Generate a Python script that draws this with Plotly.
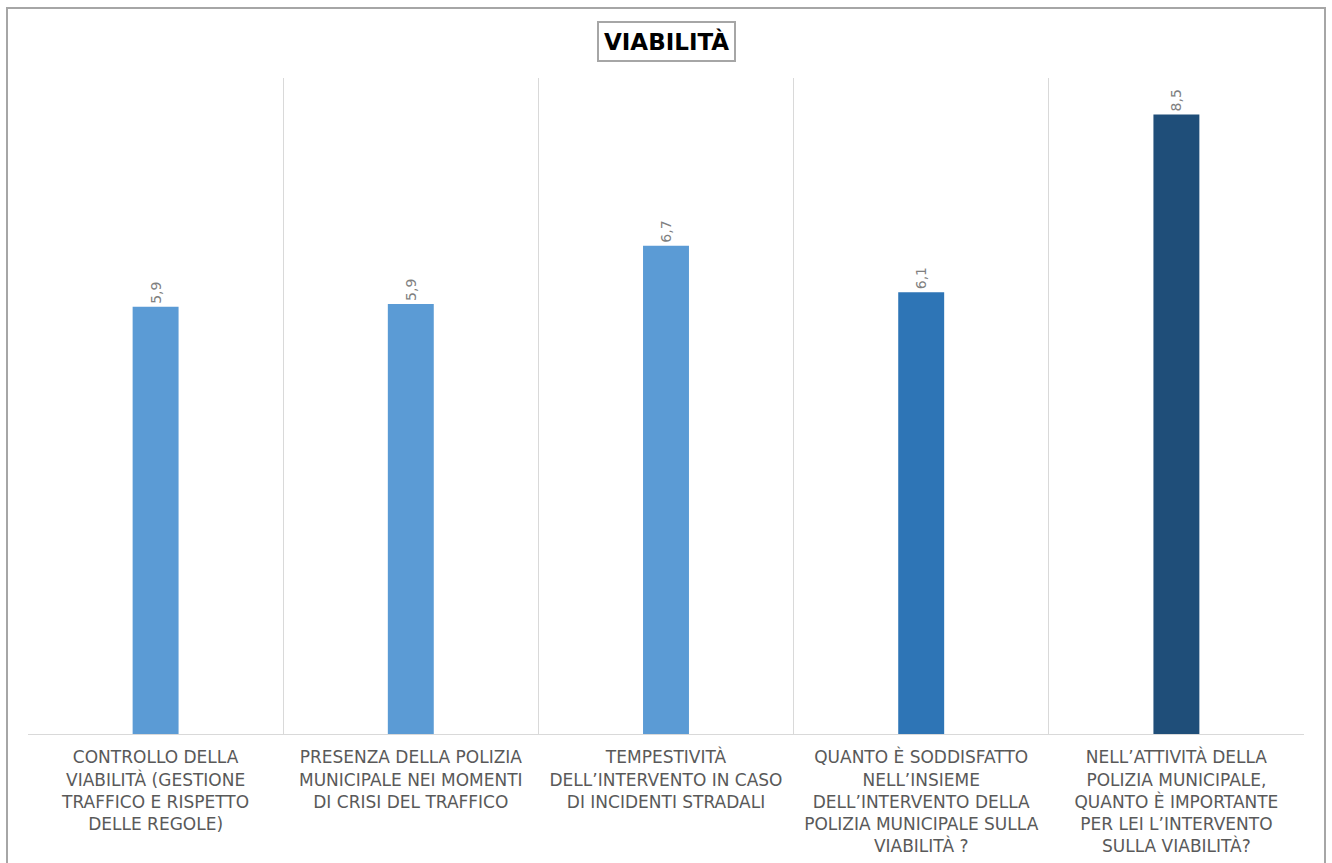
import plotly.graph_objects as go

categories = [
    "CONTROLLO DELLA<br>VIABILITÀ (GESTIONE<br>TRAFFICO E RISPETTO<br>DELLE REGOLE)",
    "PRESENZA DELLA POLIZIA<br>MUNICIPALE NEI MOMENTI<br>DI CRISI DEL TRAFFICO",
    "TEMPESTIVITÀ<br>DELL’INTERVENTO IN CASO<br>DI INCIDENTI STRADALI",
    "QUANTO È SODDISFATTO<br>NELL’INSIEME<br>DELL’INTERVENTO DELLA<br>POLIZIA MUNICIPALE SULLA<br>VIABILITÀ ?",
    "NELL’ATTIVITÀ DELLA<br>POLIZIA MUNICIPALE,<br>QUANTO È IMPORTANTE<br>PER LEI L’INTERVENTO<br>SULLA VIABILITÀ?",
]
values = [5.86, 5.90, 6.70, 6.06, 8.50]
bar_colors = ["#5B9BD5", "#5B9BD5", "#5B9BD5", "#2E75B6", "#1F4E79"]
title_text = "VIABILITÀ"

W, H = 1332, 863
L, R, T, B = 28, 28, 78, 129
pw, ph = W - L - R, H - T - B

fig = go.Figure(go.Bar(
    x=categories, y=values,
    marker=dict(color=bar_colors, line=dict(width=0)),
    texttemplate="%{y:.1f}", textposition="outside", textangle=-90,
    textfont=dict(family="DejaVu Sans", size=14, color="#808080"),
    cliponaxis=False,
))

def px_x(p):
    return (p - L) / pw

def px_y(p):
    return (H - B - p) / ph

fig.update_layout(
    width=W, height=H,
    margin=dict(l=L, r=R, t=T, b=B, autoexpand=False),
    paper_bgcolor="white", plot_bgcolor="white",
    separators=",.",
    bargap=0.82,
    showlegend=False,
    xaxis=dict(
        type="category", tickson="boundaries", showgrid=True,
        gridcolor="#D9D9D9", gridwidth=1, automargin=False,
        showline=True, linecolor="#D9D9D9", linewidth=1,
        ticks="", tickangle=0, ticklabelstandoff=8,
        tickfont=dict(family="DejaVu Sans", size=17, color="#595959"),
    ),
    yaxis=dict(range=[0, 9], visible=False, showgrid=False, zeroline=False,
               automargin=False),
    annotations=[dict(
        text="<b>" + title_text + "</b>", xref="paper", yref="paper",
        x=px_x(666), y=px_y(41), xanchor="center", yanchor="middle",
        showarrow=False,
        font=dict(family="DejaVu Sans", size=23, color="#000000"),
        bordercolor="#A6A6A6", borderwidth=2, borderpad=5, bgcolor="white",
    )],
    shapes=[dict(
        type="rect", xref="paper", yref="paper",
        x0=px_x(7), x1=px_x(1325), y0=px_y(880), y1=px_y(8),
        line=dict(color="#A6A6A6", width=2), fillcolor="rgba(0,0,0,0)",
        layer="below",
    )],
)

fig.write_html("out.html")
